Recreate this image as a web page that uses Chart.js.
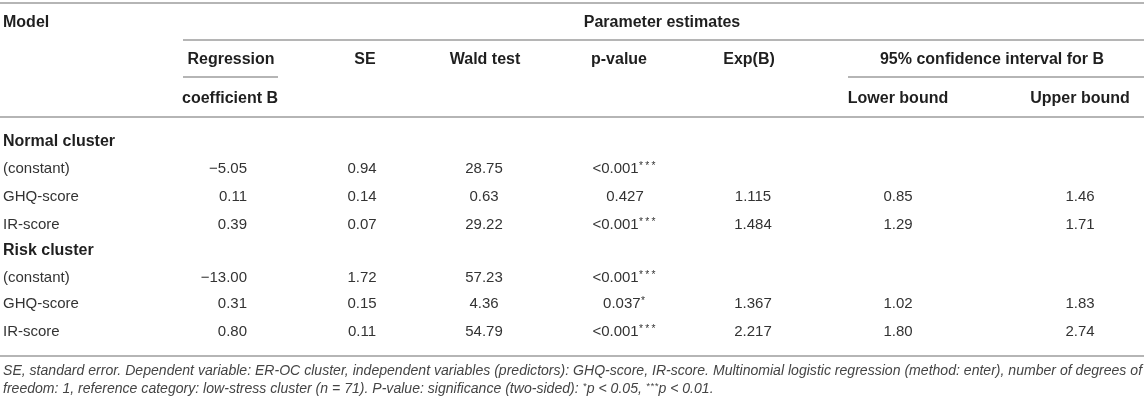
<!DOCTYPE html>
<html><head><meta charset="utf-8">
<script src="https://cdn.jsdelivr.net/npm/chart.js@4.4.1/dist/chart.umd.min.js"></script>
<style>
html,body{margin:0;padding:0;background:#fff}
#wrap{width:1144px;height:403px;position:relative}
</style></head>
<body><div id="wrap"><canvas id="c"></canvas></div>
<script>
// ---------- DATA ----------
const title = 'Parameter estimates';
const modelHeader = 'Model';
const columnHeaders = ['Regression', 'SE', 'Wald test', 'p-value', 'Exp(B)'];
const coefHeader2 = 'coefficient B';
const ciHeader = '95% confidence interval for B';
const ciSubHeaders = ['Lower bound', 'Upper bound'];
const groups = ['Normal cluster', 'Risk cluster'];
const predictors = ['(constant)', 'GHQ-score', 'IR-score'];

const normalCoef  = [-5.05, 0.11, 0.39];
const normalSE    = [0.94, 0.14, 0.07];
const normalWald  = [28.75, 0.63, 29.22];
const normalP     = ['<0.001***', '0.427', '<0.001***'];
const normalExp   = [null, 1.115, 1.484];
const normalLower = [null, 0.85, 1.29];
const normalUpper = [null, 1.46, 1.71];

const riskCoef  = [-13.00, 0.31, 0.80];
const riskSE    = [1.72, 0.15, 0.11];
const riskWald  = [57.23, 4.36, 54.79];
const riskP     = ['<0.001***', '0.037*', '<0.001***'];
const riskExp   = [null, 1.367, 2.217];
const riskLower = [null, 1.02, 1.80];
const riskUpper = [null, 1.83, 2.74];

const decimals = [2, 2, 2, null, 3, 2, 2];

const footnote = [
  'SE, standard error. Dependent variable: ER-OC cluster, independent variables (predictors): GHQ-score, IR-score. Multinomial logistic regression (method: enter), number of degrees of',
  'freedom: 1, reference category: low-stress cluster (n = 71). P-value: significance (two-sided): *p < 0.05, ***p < 0.01.'
];

// ---------- LAYOUT (positions / styles) ----------
const W = 1144, H = 403;
const colX = [247, 362, 484, 625, 753, 898, 1080];   // value column anchors
const colAlign = ['right', 'center', 'center', 'center', 'center', 'center', 'center'];
const headerX = [231, 365, 485, 619, 749];
const ciX = 992;
const labelX = 3;
const yTitle = 23, yHead1 = 60, yHead2 = 99;
const groupY = [[142, 169, 197, 225], [251, 278, 304, 332]];
const footY = [371, 389];
const rules = [
  [0, W, 3], [183, W, 40], [183, 278, 77], [848, W, 77], [0, W, 117], [0, W, 356]
];
const FONT = "'Liberation Sans', Arial, Helvetica, sans-serif";
const TXT = '#333333', BOLD = '#1f1f1f', RULE = '#b5b5b5';

// ---------- build datasets ----------
function fmt(v, d) {
  if (v === null || v === undefined) return null;
  if (typeof v === 'string') return v;
  const s = Math.abs(v).toFixed(d);
  return (v < 0 ? '\u2212' : '') + s;
}
function textSet(points, opts) {
  return Object.assign({
    type: 'scatter',
    data: points.map(p => ({x: p[0], y: p[1]})),
    texts: points.map(p => p[2]),
    pointRadius: 0, pointHoverRadius: 0,
    align: 'left', weight: 'normal', size: 15, color: TXT, italic: false, starStep: 0.42
  }, opts);
}

const datasets = [];
rules.forEach(r => datasets.push({
  type: 'line', data: [{x: r[0], y: r[2]}, {x: r[1], y: r[2]}],
  borderColor: RULE, borderWidth: 2, pointRadius: 0, fill: false, tension: 0
}));

// headers
datasets.push(textSet([[labelX, yTitle, modelHeader]], {align: 'left', weight: 'bold', size: 16, color: BOLD}));
const hdrC = [[662, yTitle, title]];
columnHeaders.forEach((h, i) => hdrC.push([headerX[i], yHead1, h]));
hdrC.push([ciX, yHead1, ciHeader]);
hdrC.push([230, yHead2, coefHeader2]);
hdrC.push([colX[5], yHead2, ciSubHeaders[0]]);
hdrC.push([colX[6], yHead2, ciSubHeaders[1]]);
datasets.push(textSet(hdrC, {align: 'center', weight: 'bold', size: 16, color: BOLD}));

// group + row labels and values
const groupCols = [
  [normalCoef, normalSE, normalWald, normalP, normalExp, normalLower, normalUpper],
  [riskCoef, riskSE, riskWald, riskP, riskExp, riskLower, riskUpper]
];
const gLab = [], rLab = [];
const colPts = colX.map(() => []);
groups.forEach((g, gi) => {
  gLab.push([labelX, groupY[gi][0], g]);
  predictors.forEach((p, ri) => {
    const y = groupY[gi][ri + 1];
    rLab.push([labelX, y, p]);
    groupCols[gi].forEach((arr, ci) => {
      const t = fmt(arr[ri], decimals[ci]);
      if (t !== null) colPts[ci].push([colX[ci], y, t]);
    });
  });
});
datasets.push(textSet(gLab, {align: 'left', weight: 'bold', size: 16, color: BOLD}));
datasets.push(textSet(rLab, {align: 'left'}));
colPts.forEach((pts, ci) => datasets.push(textSet(pts, {align: colAlign[ci]})));
datasets.push(textSet(footnote.map((t, i) => [labelX, footY[i], t]),
  {align: 'left', italic: true, size: 13.4, color: '#444444', fitFirst: 1139, starStep: 0.3}));

// ---------- plugin drawing the text marks ----------
function segments(t) {
  const out = [];
  const re = /(\*+)/g;
  let last = 0, m;
  while ((m = re.exec(t)) !== null) {
    if (m.index > last) out.push({s: t.slice(last, m.index), star: false});
    out.push({s: m[1], star: true});
    last = m.index + m[1].length;
  }
  if (last < t.length) out.push({s: t.slice(last), star: false});
  return out;
}
const textPlugin = {
  id: 'tableText',
  afterDatasetsDraw(chart) {
    const ctx = chart.ctx;
    chart.data.datasets.forEach((ds, di) => {
      if (!ds.texts) return;
      const meta = chart.getDatasetMeta(di);
      let size = ds.size;
      const mk = s => (ds.italic ? 'italic ' : '') + ds.weight + ' ' + s + 'px ' + FONT;
      if (ds.fitFirst) {
        ctx.font = mk(size);
        const w = ctx.measureText(ds.texts[0]).width;
        size = size * ds.fitFirst / w;
      }
      const starSize = size * 0.68, starStep = size * ds.starStep;
      ctx.save();
      ctx.fillStyle = ds.color;
      ctx.textBaseline = 'middle';
      ctx.textAlign = 'left';
      meta.data.forEach((el, i) => {
        const segs = segments(ds.texts[i]);
        let total = 0;
        segs.forEach(sg => {
          if (sg.star) { sg.w = sg.s.length * starStep; }
          else { ctx.font = mk(size); sg.w = ctx.measureText(sg.s).width; }
          total += sg.w;
        });
        let x = el.x;
        if (ds.align === 'center') x = el.x - total / 2;
        else if (ds.align === 'right') x = el.x - total;
        segs.forEach(sg => {
          if (sg.star) {
            ctx.font = mk(starSize);
            for (let k = 0; k < sg.s.length; k++) {
              ctx.fillText('*', x + k * starStep + 0.3, el.y - size * 0.2);
            }
          } else {
            ctx.font = mk(size);
            ctx.fillText(sg.s, x, el.y);
          }
          x += sg.w;
        });
      });
      ctx.restore();
    });
  }
};

new Chart(document.getElementById('c'), {
  type: 'scatter',
  data: {datasets},
  options: {
    responsive: true, maintainAspectRatio: false, animation: false, events: [],
    layout: {padding: 0},
    plugins: {legend: {display: false}, tooltip: {enabled: false}, title: {display: false}},
    scales: {
      x: {type: 'linear', min: 0, max: W, display: false},
      y: {type: 'linear', min: 0, max: H, reverse: true, display: false}
    }
  },
  plugins: [textPlugin]
});
</script>
</body></html>
